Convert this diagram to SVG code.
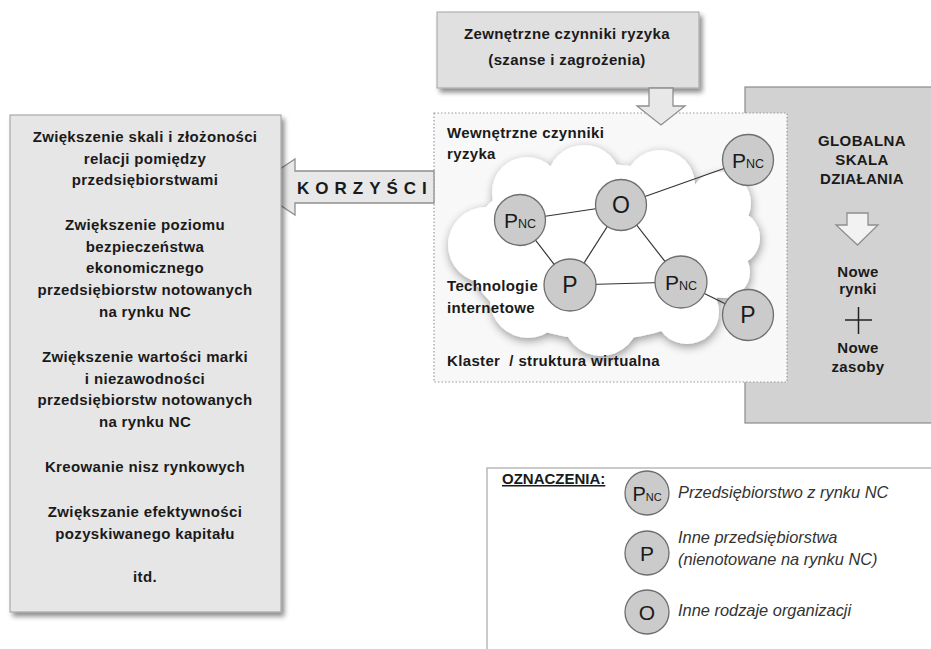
<svg xmlns="http://www.w3.org/2000/svg" width="931" height="649" viewBox="0 0 931 649">
<defs>
<filter id="shadow" x="-10%" y="-10%" width="125%" height="125%">
<feGaussianBlur in="SourceAlpha" stdDeviation="2.5"/>
<feOffset dx="3" dy="4" result="b"/>
<feComponentTransfer><feFuncA type="linear" slope="0.45"/></feComponentTransfer>
<feMerge><feMergeNode/><feMergeNode in="SourceGraphic"/></feMerge>
</filter>
<filter id="cloudsh" x="-20%" y="-20%" width="140%" height="140%">
<feGaussianBlur in="SourceAlpha" stdDeviation="5"/>
<feOffset dx="1" dy="3" result="b"/>
<feComponentTransfer><feFuncA type="linear" slope="0.4"/></feComponentTransfer>
<feMerge><feMergeNode/><feMergeNode in="SourceGraphic"/></feMerge>
</filter>
<style>
text{font-family:"Liberation Sans",Arial,sans-serif;fill:#1a1a1a}
.b{font-weight:bold;font-size:15px;letter-spacing:0.35px}
.c{text-anchor:middle}
.node{fill:#cbcbcb;stroke:#6e6e6e;stroke-width:1.3}
.lbl{font-size:23px;text-anchor:middle}
.sub{font-size:12.5px}
.it{font-style:italic;font-size:16.4px;fill:#333}
.edge{stroke:#333;stroke-width:1.2;fill:none}
.arrow{fill:#e8e8e8;stroke:#8f8f8f;stroke-width:1.3}
</style>
</defs>
<rect width="931" height="649" fill="#ffffff"/>

<g id="global-panel">
<rect x="745" y="87" width="200" height="336" fill="#d2d2d2" stroke="#8a8a8a" stroke-width="1.2"/>
<text class="b c" x="862" y="146">GLOBALNA</text>
<text class="b c" x="862" y="165">SKALA</text>
<text class="b c" x="862" y="184">DZIAŁANIA</text>
<path class="arrow" d="M847,213 H868 V225 H878 L857.5,245 L836,225 H847 Z" style="fill:#f2f2f2"/>
<text class="b c" x="858" y="277">Nowe</text>
<text class="b c" x="858" y="294">rynki</text>
<path d="M845,320 H872 M858.5,307 V334" stroke="#222" stroke-width="1.5" fill="none"/>
<text class="b c" x="858" y="353">Nowe</text>
<text class="b c" x="858" y="372">zasoby</text>
</g>

<g id="external-risk">
<rect x="437" y="12" width="262" height="76" fill="#e0e0e0" stroke="#a3a3a3" stroke-width="1" filter="url(#shadow)"/>
<text class="b c" x="567" y="39">Zewnętrzne czynniki ryzyka</text>
<text class="b c" x="567" y="65">(szanse i zagrożenia)</text>
</g>

<g id="cluster">
<rect x="434" y="113" width="353" height="269" fill="#f8f8f8" stroke="#9a9a9a" stroke-width="1.2" stroke-dasharray="1.5,2"/>
<g id="cloud" fill="#ffffff" filter="url(#cloudsh)">
<ellipse cx="602" cy="252" rx="135" ry="88"/>
<circle cx="527" cy="192" r="35"/>
<circle cx="584" cy="182" r="37"/>
<circle cx="660" cy="185" r="35"/>
<circle cx="720" cy="203" r="31"/>
<circle cx="732" cy="238" r="28"/>
<circle cx="724" cy="272" r="26"/>
<circle cx="687" cy="312" r="32"/>
<circle cx="601" cy="318" r="38"/>
<circle cx="528" cy="300" r="38"/>
<circle cx="486" cy="245" r="38"/>
</g>
<text class="b" x="447" y="138">Wewnętrzne czynniki</text>
<text class="b" x="447" y="159">ryzyka</text>
<text class="b" x="447" y="291">Technologie</text>
<text class="b" x="447" y="313">internetowe</text>
<text class="b" x="447" y="366" xml:space="preserve">Klaster  / struktura wirtualna</text>
</g>

<g id="korzysci-arrow">
<path class="arrow" d="M434,171 H295 V159 L253,187 L295,215 V203 H434 Z"/>
<text x="297" y="194" style="font-weight:bold;font-size:17px;letter-spacing:6px">KORZYŚCI</text>
</g>

<g id="down-arrow">
<path class="arrow" d="M649,88 H673 V106 H685 L661,125 L637,106 H649 Z"/>
</g>

<g id="connectors">
<line class="edge" x1="520" y1="220" x2="621" y2="205"/>
<line class="edge" x1="621" y1="205" x2="748" y2="160"/>
<line class="edge" x1="520" y1="220" x2="570" y2="285"/>
<line class="edge" x1="621" y1="205" x2="570" y2="285"/>
<line class="edge" x1="621" y1="205" x2="681" y2="282"/>
<line class="edge" x1="570" y1="285" x2="681" y2="282"/>
<line class="edge" x1="681" y1="282" x2="748" y2="315"/>
</g>

<g id="node-pnc-top">
<circle class="node" cx="748" cy="160" r="25.5"/>
<text class="lbl" x="748" y="168" style="font-size:21px">P<tspan class="sub">NC</tspan></text>
</g>
<g id="node-o">
<circle class="node" cx="621" cy="205" r="25.5"/>
<text class="lbl" x="621" y="213">O</text>
</g>
<g id="node-pnc-left">
<circle class="node" cx="520" cy="220" r="25.5"/>
<text class="lbl" x="520" y="228" style="font-size:21px">P<tspan class="sub">NC</tspan></text>
</g>
<g id="node-p-center">
<circle class="node" cx="570" cy="285" r="26"/>
<text class="lbl" x="570" y="293">P</text>
</g>
<g id="node-pnc-right">
<circle class="node" cx="681" cy="282" r="26"/>
<text class="lbl" x="681" y="290" style="font-size:21px">P<tspan class="sub">NC</tspan></text>
</g>
<g id="node-p-right">
<circle class="node" cx="748" cy="315" r="25.5"/>
<text class="lbl" x="748" y="323">P</text>
</g>

<g id="benefits">
<rect x="10" y="115" width="271" height="497" fill="#e6e6e6" stroke="#9c9c9c" stroke-width="1" filter="url(#shadow)"/>
<text class="b c" x="145" y="142">Zwiększenie skali i złożoności</text>
<text class="b c" x="145" y="163.5">relacji pomiędzy</text>
<text class="b c" x="145" y="185">przedsiębiorstwami</text>
<text class="b c" x="145" y="230">Zwiększenie poziomu</text>
<text class="b c" x="145" y="251.5">bezpieczeństwa</text>
<text class="b c" x="145" y="273">ekonomicznego</text>
<text class="b c" x="145" y="295">przedsiębiorstw notowanych</text>
<text class="b c" x="145" y="317">na rynku NC</text>
<text class="b c" x="145" y="362">Zwiększenie wartości marki</text>
<text class="b c" x="145" y="383.5">i niezawodności</text>
<text class="b c" x="145" y="405">przedsiębiorstw notowanych</text>
<text class="b c" x="145" y="427">na rynku NC</text>
<text class="b c" x="145" y="472">Kreowanie nisz rynkowych</text>
<text class="b c" x="145" y="517">Zwiększanie efektywności</text>
<text class="b c" x="145" y="539">pozyskiwanego kapitału</text>
<text class="b c" x="145" y="582">itd.</text>
</g>

<g id="legend">
<rect x="487" y="468" width="460" height="200" fill="#ffffff" stroke="#a8a8a8" stroke-width="1.2"/>
<text x="502" y="484" style="font-weight:bold;font-size:15px;text-decoration:underline">OZNACZENIA:</text>
<circle class="node" cx="647" cy="493" r="22"/>
<text class="lbl" x="647" y="501" style="font-size:20px">P<tspan style="font-size:11px">NC</tspan></text>
<text class="it" x="678" y="498">Przedsiębiorstwo z rynku NC</text>
<circle class="node" cx="647" cy="553" r="22"/>
<text class="lbl" x="647" y="561" style="font-size:21px">P</text>
<text class="it" x="678" y="543">Inne przedsiębiorstwa</text>
<text class="it" x="678" y="565">(nienotowane na rynku NC)</text>
<circle class="node" cx="647" cy="612" r="22"/>
<text class="lbl" x="647" y="620" style="font-size:21px">O</text>
<text class="it" x="678" y="616">Inne rodzaje organizacji</text>
</g>
</svg>
